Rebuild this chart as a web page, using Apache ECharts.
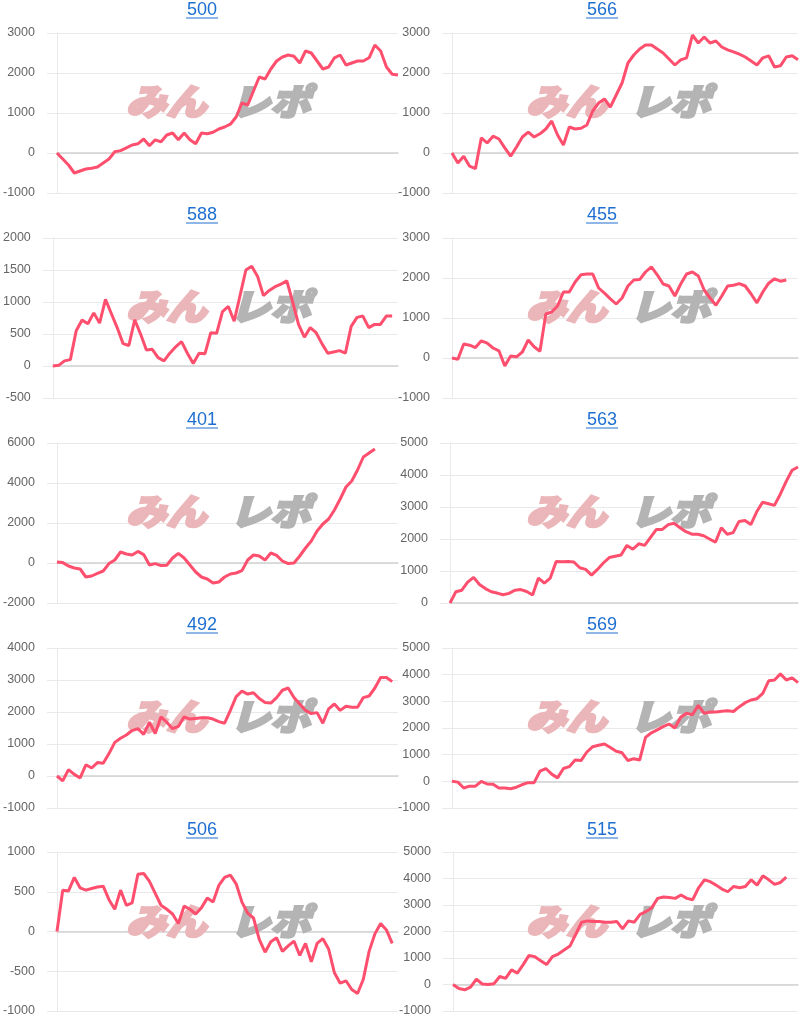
<!DOCTYPE html>
<html>
<head>
<meta charset="utf-8">
<script src="https://cdn.jsdelivr.net/npm/echarts@6/dist/echarts.min.js"></script>
<style>
html,body{margin:0;padding:0;background:#fff;}
#c{width:800px;height:1023px;}
</style>
</head>
<body>
<div id="c"></div>
<script>
// ---- data ----
const titles = ['500','566','588','455','401','563','492','569','506','515'];
const s500 = [0,-150,-300,-500,-450,-400,-380,-350,-250,-150,30,60,130,200,230,350,180,330,280,450,500,330,500,330,230,500,480,520,600,650,720,900,1250,1200,1550,1900,1850,2100,2300,2400,2450,2420,2250,2550,2500,2300,2100,2150,2380,2450,2200,2250,2300,2300,2380,2700,2550,2150,1970,1950];
const s566 = [0,-250,-80,-330,-390,380,250,420,350,130,-80,150,400,520,400,480,600,800,450,200,650,600,620,700,1050,1250,1350,1150,1450,1750,2250,2450,2600,2700,2700,2600,2500,2350,2200,2330,2380,2950,2750,2900,2750,2800,2650,2580,2530,2470,2400,2300,2200,2380,2430,2150,2180,2400,2430,2330];
const s588 = [0,10,80,100,550,720,660,830,670,1040,820,600,350,320,720,500,250,260,130,80,200,300,380,200,40,200,190,520,510,850,930,700,1100,1500,1560,1400,1100,1180,1240,1280,1330,1000,650,450,600,520,350,200,220,240,200,620,760,780,600,650,650,780,780];
const s455 = [0,-30,350,320,260,430,370,250,180,-200,50,30,150,450,280,170,1100,1150,1300,1650,1650,1900,2080,2100,2100,1750,1620,1480,1350,1500,1800,1950,1960,2150,2280,2080,1850,1800,1550,1850,2100,2150,2050,1700,1500,1320,1550,1800,1820,1860,1800,1600,1380,1650,1870,1980,1920,1950];
const s401 = [50,20,-150,-250,-300,-700,-650,-520,-400,-30,150,550,450,400,580,420,-100,-30,-130,-110,250,480,250,-100,-450,-700,-800,-1000,-950,-700,-550,-500,-380,150,400,350,150,500,380,100,-30,0,350,750,1100,1600,1950,2200,2650,3200,3800,4100,4650,5300,5500,5700];
const s563 = [0,350,400,650,800,580,450,350,310,260,300,400,420,360,250,780,620,780,1300,1290,1300,1280,1100,1050,870,1050,1250,1420,1460,1500,1800,1680,1850,1800,2050,2300,2300,2450,2490,2350,2230,2150,2150,2100,2000,1900,2350,2150,2200,2550,2580,2450,2850,3150,3100,3050,3400,3800,4150,4250];
const s492 = [0,-150,200,50,-60,350,250,420,400,700,1050,1180,1280,1420,1480,1300,1680,1330,1850,1680,1480,1550,1850,1780,1800,1820,1820,1780,1700,1650,2050,2480,2650,2560,2600,2420,2300,2280,2450,2680,2750,2450,2250,2050,1950,1980,1650,2100,2250,2050,2180,2150,2150,2450,2500,2750,3080,3080,2950];
const s569 = [0,-30,-250,-180,-180,0,-100,-110,-250,-250,-280,-220,-120,-50,-50,380,480,270,130,480,550,800,780,1100,1300,1350,1400,1270,1130,1070,780,850,800,1650,1820,1930,2050,2150,2000,2400,2550,2500,2850,2550,2600,2600,2630,2650,2620,2800,2950,3050,3100,3300,3770,3800,4030,3800,3880,3700];
const s506 = [0,520,510,680,550,520,540,560,570,400,280,520,330,360,720,730,630,480,330,280,220,100,320,280,220,300,420,370,580,680,710,600,370,230,170,-100,-260,-130,-80,-250,-180,-120,-300,-150,-380,-150,-90,-220,-520,-650,-620,-730,-780,-600,-250,-30,100,20,-150];
const s515 = [0,-150,-200,-100,200,20,0,30,300,230,550,430,750,1100,1050,900,750,1050,1150,1300,1450,1900,2350,2400,2380,2380,2350,2350,2380,2100,2400,2350,2650,2750,2900,3250,3300,3280,3250,3380,3250,3200,3650,3950,3880,3750,3600,3500,3700,3650,3700,3950,3750,4100,3950,3780,3850,4050];
const seriesData = [s500,s566,s588,s455,s401,s563,s492,s569,s506,s515];
// y-axis ranges
const yMins = [-1000,-1000,-500,-1000,-2000,0,-1000,-1000,-1000,-1000];
const yMaxs = [3000,3000,2000,3000,6000,5000,4000,5000,1000,5000];
const yIntervals = [1000,1000,500,1000,2000,1000,1000,1000,500,1000];
const categories = Array.from({length:60}, (_, i) => String(i + 1));

// ---- layout ----
const LINE = '#ff4f6e';
const GRIDC = '#e9e9e9';
const lefts = [52,52,47,52,52,50,52,52,53,53];
const rowTop = [0,205,410,615,820];

const grids = [], xAxes = [], yAxes = [], series = [], graphics = [];
for (let k = 0; k < 10; k++) {
  const col = k % 2, row = Math.floor(k / 2);
  const px = col * 400, py = rowTop[row];
  const top = row === 4 ? py + 32 : py + 33;
  const h = row === 4 ? 159 : 160;
  grids.push({left: px + lefts[k], top: top, width: 398 - lefts[k], height: h});
  xAxes.push({
    type: 'category', gridIndex: k, data: categories, boundaryGap: false,
    axisLabel: {show: false}, axisTick: {show: false},
    axisLine: {show: true, onZero: true, lineStyle: {color: '#d2d2d2', width: 1.5}},
    splitLine: {show: false}
  });
  yAxes.push({
    type: 'value', gridIndex: k, min: yMins[k], max: yMaxs[k], interval: yIntervals[k],
    axisLine: {show: true, lineStyle: {color: GRIDC}},
    axisTick: {show: true, length: 10, lineStyle: {color: GRIDC}},
    axisLabel: {color: '#666', fontSize: 12.5, fontFamily: 'Liberation Sans, Arial, sans-serif', margin: 22,
      formatter: v => String(v)},
    splitLine: {show: true, lineStyle: {color: GRIDC, width: 1}}
  });
  series.push({
    type: 'line', xAxisIndex: k, yAxisIndex: k, data: seriesData[k],
    showSymbol: false, symbol: 'none', smooth: false,
    lineStyle: {color: LINE, width: 3}, z: 5, silent: true
  });
  const cx = px + 202;
  graphics.push({
    type: 'text', x: cx, y: py + 10, z: 10,
    style: {text: titles[k], fill: '#1f6fd1', font: '18px "Liberation Sans", Arial, sans-serif', align: 'center', verticalAlign: 'middle'}
  });
  graphics.push({
    type: 'line', z: 10,
    shape: {x1: cx - 16, y1: py + 18, x2: cx + 16, y2: py + 18},
    style: {stroke: '#1f6fd1', lineWidth: 1}
  });
  graphics.push({
    type: 'text', x: px + 126, y: py + 101, z: 1, scaleX: 1.12,
    style: {text: 'みん', fill: '#ebb6b9', stroke: '#ebb6b9', lineWidth: 2.5,
      font: 'italic 900 36px "Noto Sans CJK JP", sans-serif', align: 'left', verticalAlign: 'middle'}
  });
  graphics.push({
    type: 'text', x: px + 230, y: py + 101, z: 1, scaleX: 1.12,
    style: {text: 'レポ', fill: '#b4b4b4', stroke: '#b4b4b4', lineWidth: 2.5, letterSpacing: -8,
      font: 'italic 900 36px "Noto Sans CJK JP", sans-serif', align: 'left', verticalAlign: 'middle'}
  });
}

const chart = echarts.init(document.getElementById('c'), null, {renderer: 'canvas'});
chart.setOption({
  animation: false,
  backgroundColor: '#fff',
  grid: grids, xAxis: xAxes, yAxis: yAxes, series: series,
  graphic: graphics
});
</script>
</body>
</html>
